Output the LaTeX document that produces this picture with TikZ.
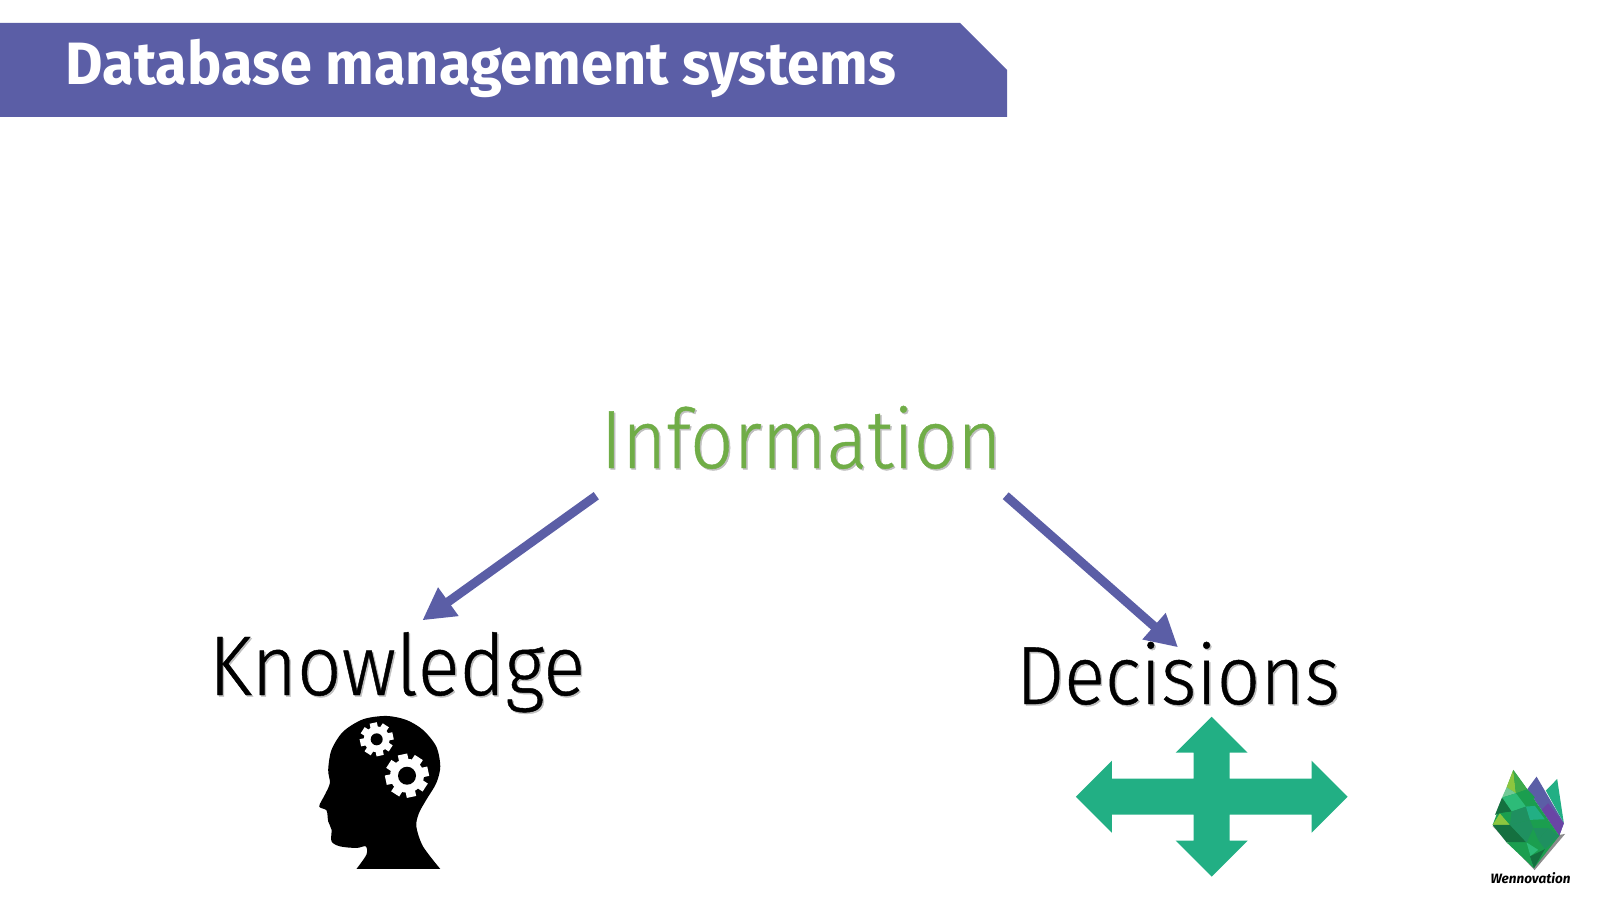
\documentclass[tikz,border=0pt]{standalone}
\usepackage{fontspec}
\setmainfont{Fira Sans}
\newfontfamily\bookfont[FakeStretch=0.92,FakeBold=0.5]{Fira Sans Light}
\newfontfamily\titlefont[FakeStretch=0.965]{Fira Sans}
\usetikzlibrary{arrows.meta,positioning,calc}
\definecolor{bannerblue}{HTML}{5B5EA6}
\definecolor{infogreen}{HTML}{70AD47}
\definecolor{crossgreen}{HTML}{22AF84}
\definecolor{logodark}{HTML}{14703F}
\definecolor{logomid}{HTML}{1B9E4F}
\definecolor{logosea}{HTML}{1F9060}
\definecolor{logolight}{HTML}{2DBB78}
\definecolor{logolime}{HTML}{8CC63F}
\definecolor{logomint}{HTML}{72C996}
\definecolor{logoviolet}{HTML}{6A45A5}
\tikzset{
  bigword/.style={inner sep=0pt,anchor=base,font=\bookfont\fontsize{23.5pt}{26pt}\selectfont},
  flow/.style={bannerblue,line width=0.09cm,-{Triangle[length=0.32cm,width=0.33cm]}}
}
\newcommand{\softshade}[1]{\rlap{\kern0.015cm\raisebox{-0.015cm}{\color{black!25}#1}}#1}
\newcommand{\gearwheel}[3]{% centre, outer radius, hole radius
  \foreach \a in {0,45,...,315}
    \fill[white,rotate around={\a+12:(#1)}] ($(#1)+(-0.22*#2,0)$) rectangle ($(#1)+(0.22*#2,#2)$);
  \fill[white] (#1) circle (0.78*#2);
  \fill[black] (#1) circle (#3);
}
\newcommand{\facet}[2]{\fill[#1] #2 --cycle;}
\begin{document}
\begin{tikzpicture}
\useasboundingbox (0,0) rectangle (16,9);
% banner
\fill[bannerblue] (0,8.77)--(9.6,8.77)--(10.07,8.3)--(10.07,7.83)--(0,7.83)--cycle;
\node[anchor=base west,inner sep=0pt,text=white,font=\titlefont\bfseries\fontsize{17pt}{20pt}\selectfont] (title) at (0.65,8.15) {Database management systems};
% the three words
\node[bigword,text=infogreen,minimum width=4.08cm,text height=0.7cm,text depth=0.27cm] (information) at (8.01,4.32) {\softshade{Information}};
\node[bigword,text=black,text height=0.74cm,text depth=0.2cm,font=\bookfont\fontsize{24.1pt}{26pt}\selectfont] (knowledge) at (3.97,2.05) {\softshade{Knowledge}};
\node[bigword,text=black,text height=0.56cm,text depth=0.2cm] (decisions) at (11.78,1.96) {\softshade{Decisions}};
\draw[flow] (information.south west)--(knowledge.62);
\draw[flow] (information.south east)--(decisions.north);
% head
\begin{scope}[shift={(2.6,2.1)},x=0.0033333cm,y=-0.0033333cm]
\fill[black] plot[smooth,tension=0.5] coordinates {(542,538) (490,470) (470,410) (478,370) (500,330) (530,280) (542,230) (530,170) (490,120) (440,90) (380,78) (310,88) (250,125) (215,180) (205,240) (210,280) (195,315) (178,350) (200,362) (205,395) (215,420) (215,455) (240,470) (290,475) (318,470) (320,495) (290,538)} --cycle;
\end{scope}
\gearwheel{3.767,1.607}{0.167}{0.06}
\gearwheel{4.07,1.243}{0.217}{0.09}
% cross
\begin{scope}[shift={(12.117,1.033)},x=0.01cm,y=0.01cm]
\fill[crossgreen] (0,80)--(36,44)--(18,44)--(18,18)--(100,18)--(100,36)--(136,0)--(100,-36)--(100,-18)--(18,-18)--(18,-44)--(36,-44)--(0,-80)--(-36,-44)--(-18,-44)--(-18,-18)--(-100,-18)--(-100,-36)--(-136,0)--(-100,36)--(-100,18)--(-18,18)--(-18,44)--(-36,44)--cycle;
\end{scope}
% logo
\begin{scope}[shift={(14.8,1.4)},x=0.0033333cm,y=-0.0033333cm]
\fill[black!45] (38,199)--(164,331)--(256,222)--(240,225)--cycle;
\facet{crossgreen}{(232,57)--(252,190)--(198,92)}
\facet{bannerblue}{(170,50)--(252,190)--(238,228)--(142,88)}
\facet{logoviolet}{(205,130)--(252,190)--(238,228)--(185,150)}
\facet{logomid}{(100,30)--(142,88)--(238,228)--(162,325)--(38,195)}
\facet{logolime}{(100,30)--(108,100)--(80,82)}
\facet{logomid!70!logolime}{(100,30)--(142,88)--(108,100)}
\facet{logomint}{(80,82)--(108,100)--(66,113)}
\facet{logomid}{(108,100)--(142,88)--(165,112)--(138,140)}
\facet{logolight}{(108,100)--(138,140)--(95,155)--(66,113)}
\facet{logodark}{(66,113)--(95,155)--(60,160)--(45,165)}
\facet{logolime}{(38,195)--(60,160)--(90,195)}
\facet{logomid}{(60,160)--(95,155)--(90,195)}
\facet{logosea}{(95,155)--(138,140)--(150,180)--(90,195)}
\facet{crossgreen}{(138,140)--(165,138)--(195,178)--(150,180)}
\facet{logodark}{(38,195)--(90,195)--(140,248)--(80,248)}
\facet{logosea}{(90,195)--(150,180)--(160,205)--(140,248)}
\facet{logomid}{(80,248)--(140,248)--(150,290)--(162,325)}
\facet{logolight}{(140,248)--(175,270)--(150,290)--(162,325)}
\facet{logodark}{(150,290)--(195,268)--(162,325)}
\facet{logosea}{(160,205)--(205,205)--(175,240)}
\facet{logosea}{(205,205)--(238,228)--(195,268)--(175,240)}
\node[anchor=base,inner sep=0pt,text=black,font=\bfseries\itshape\fontsize{3.85pt}{5pt}\selectfont] (wordmark) at (152,370) {Wennovation};
\end{scope}
\end{tikzpicture}
\end{document}
